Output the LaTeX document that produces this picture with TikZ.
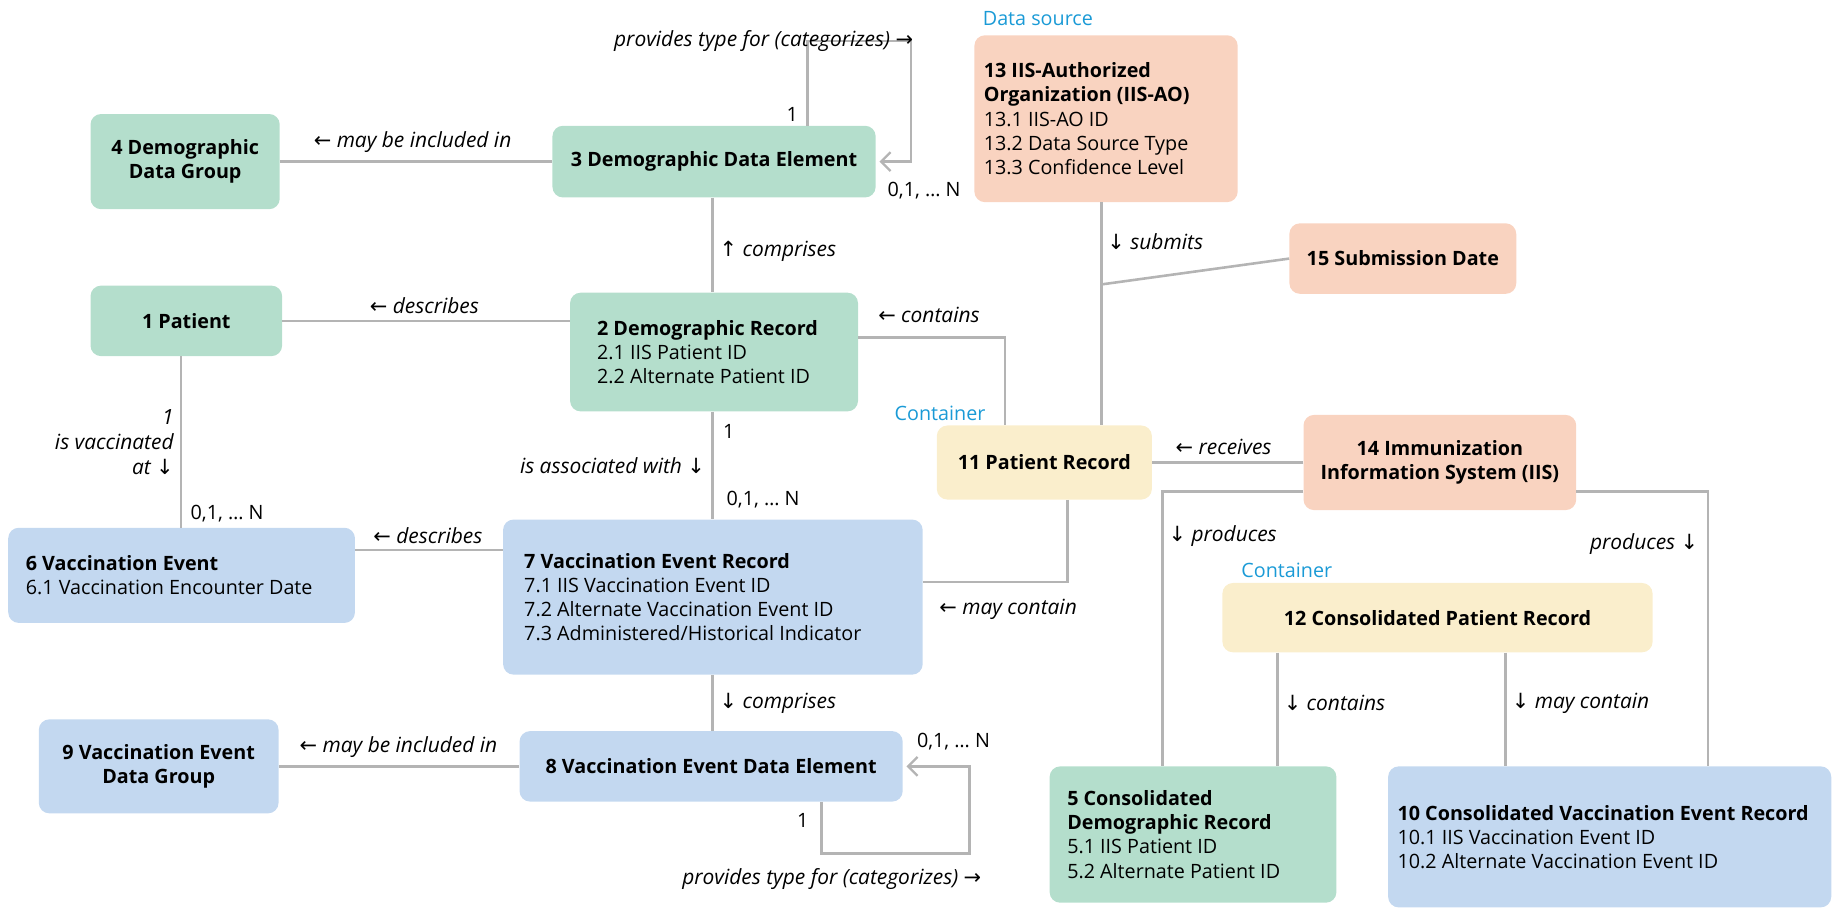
\documentclass[tikz,border=0pt]{standalone}
\usepackage{fontspec}
\setmainfont{Open Sans}
\newfontfamily\symfont{DejaVu Sans}
\usetikzlibrary{arrows.meta}
\definecolor{cgreen}{HTML}{B4DECC}
\definecolor{cblue}{HTML}{C3D8F0}
\definecolor{csalmon}{HTML}{F9D3C0}
\definecolor{cyellow}{HTML}{FAEECC}
\definecolor{cline}{HTML}{B4B4B4}
\definecolor{ctag}{HTML}{1A9AD6}
\newcommand{\arL}{{\symfont\upshape ←}}
\newcommand{\arR}{{\symfont\upshape →}}
\newcommand{\arU}{{\symfont\upshape ↑}}
\newcommand{\arD}{{\symfont\upshape ↓}}
\tikzset{
  txt/.style={font=\fontsize{16.8}{20.5}\selectfont, text=black, inner sep=0pt},
  box/.style={txt, rounded corners=9pt, font=\fontsize{16.8}{20.5}\selectfont\bfseries, align=center},
  gbox/.style={box, fill=cgreen},
  bbox/.style={box, fill=cblue},
  sbox/.style={box, fill=csalmon},
  ybox/.style={box, fill=cyellow},
  inbox/.style={txt, anchor=west, align=left},
  lab/.style={txt, font=\fontsize{17.8}{21}\selectfont\itshape},
  card/.style={txt},
  tag/.style={txt, text=ctag, anchor=west},
  conn/.style={draw=cline, line width=2.2pt},
  loopconn/.style={conn, -{Straight Barb[length=8pt,width=16pt,line width=2pt]}, shorten >=3pt},
}
\begin{document}
\begin{tikzpicture}[x=1pt, y=-1pt]
\useasboundingbox (0,0) rectangle (1568,773);

% ---------- boxes ----------
\node[gbox, minimum width=161pt, minimum height=81pt] (n4) at (157.5,137.5) {4 Demographic\\Data Group};
\node[gbox, minimum width=275pt, minimum height=61pt] (n3) at (607.5,137.5) {3 Demographic Data Element};
\node[gbox, minimum width=163pt, minimum height=60pt] (n1) at (158.5,273) {1 Patient};
\node[gbox, minimum width=245pt, minimum height=101pt] (n2) at (607.5,299.5) {};
\node[inbox] at ([xshift=23pt]n2.west) {\textbf{2 Demographic Record}\\2.1 IIS Patient ID\\2.2 Alternate Patient ID};
\node[ybox, minimum width=183pt, minimum height=63pt] (n11) at (888.5,393.5) {11 Patient Record};
\node[bbox, minimum width=295pt, minimum height=81pt] (n6) at (154.5,489.5) {};
\node[inbox] at ([xshift=15pt]n6.west) {\textbf{6 Vaccination Event}\\6.1 Vaccination Encounter Date};
\node[bbox, minimum width=357pt, minimum height=132pt] (n7) at (606.5,508) {};
\node[inbox] at ([xshift=18pt]n7.west) {\textbf{7 Vaccination Event Record}\\7.1 IIS Vaccination Event ID\\7.2 Alternate Vaccination Event ID\\7.3 Administered/Historical Indicator};
\node[sbox, minimum width=224pt, minimum height=142pt] (n13) at (941,101) {};
\node[inbox] at ([xshift=8pt]n13.west) {\textbf{13 IIS-Authorized}\\\textbf{Organization (IIS-AO)}\\13.1 IIS-AO ID\\13.2 Data Source Type\\13.3 Confidence Level};
\node[sbox, minimum width=193pt, minimum height=60pt] (n15) at (1193.5,220) {15 Submission Date};
\node[sbox, minimum width=232pt, minimum height=81pt] (n14) at (1225,393.5) {14 Immunization\\Information System (IIS)};
\node[ybox, minimum width=366pt, minimum height=59pt] (n12) at (1223,525.5) {12 Consolidated Patient Record};
\node[gbox, minimum width=244pt, minimum height=116pt] (n5) at (1015,710) {};
\node[inbox] at ([xshift=15pt]n5.west) {\textbf{5 Consolidated}\\\textbf{Demographic Record}\\5.1 IIS Patient ID\\5.2 Alternate Patient ID};
\node[bbox, minimum width=377pt, minimum height=120pt] (n10) at (1369.5,712) {};
\node[inbox] at ([xshift=8pt]n10.west) {\textbf{10 Consolidated Vaccination Event Record}\\10.1 IIS Vaccination Event ID\\10.2 Alternate Vaccination Event ID};
\node[bbox, minimum width=326pt, minimum height=60pt] (n8) at (605,652) {8 Vaccination Event Data Element};
\node[bbox, minimum width=204pt, minimum height=80pt] (n9) at (135,652) {9 Vaccination Event\\Data Group};

% ---------- helper coordinates for routing ----------
\coordinate (xA) at (606,0);
\coordinate (xP) at (154,0);
\coordinate (x11in) at (855,0);
\coordinate (x13) at (937,0);
\coordinate (x11out) at (908,0);
\coordinate (xProdL) at (989,0);
\coordinate (xProdR) at (1453,0);
\coordinate (x12L) at (1087,0);
\coordinate (x12R) at (1281,0);
\coordinate (x3loop) at (687,0);
\coordinate (x8loop) at (699,0);
\coordinate (yContains) at (0,287);
\coordinate (yDescr) at (0,468);
\coordinate (yMay) at (0,495);
\coordinate (yProd) at (0,418);
\coordinate (jSub) at (937,242);
\coordinate (c3loop) at (775,35);
\coordinate (c8loop) at (825,726);

% ---------- connectors ----------
\draw[conn] (n4.east) -- (n3.west);
\draw[conn] (n1.east) -- (n1.east -| n2.west);
\draw[conn] (xA |- n3.south) -- (xA |- n2.north);
\draw[conn] (xA |- n2.south) -- (xA |- n7.north);
\draw[conn] (xA |- n7.south) -- (xA |- n8.north);
\draw[conn] (xP |- n1.south) -- (xP |- n6.north);
\draw[conn] (n6.east |- yDescr) -- (n7.west |- yDescr);
\draw[conn] (n9.east) -- (n8.west);
\draw[conn] (n2.east |- yContains) -| (x11in |- n11.north);
\draw[conn] (x13 |- n13.south) -- (x13 |- n11.north);
\draw[conn] (jSub) -- (n15.west);
\draw[conn] (x11out |- n11.south) |- (n7.east |- yMay);
\draw[conn] (n14.west) -- (n11.east);
\draw[conn] (n14.west |- yProd) -| (xProdL |- n5.north);
\draw[conn] (n14.east |- yProd) -| (xProdR |- n10.north);
\draw[conn] (x12L |- n12.south) -- (x12L |- n5.north);
\draw[conn] (x12R |- n12.south) -- (x12R |- n10.north);
\draw[loopconn] (x3loop |- n3.north) |- (c3loop) |- (n3.east);
\draw[loopconn] (x8loop |- n8.south) |- (c8loop) |- (n8.east);

% ---------- labels ----------
\node[lab, anchor=east] at (777,35) {provides type for (categorizes) \arR};
\node[card] at (674,97) {1};
\node[card, anchor=west] at (755,162) {0,1, \dots\ N};
\node[lab] at (351,121) {\arL\ may be included in};
\node[lab] at (361,260) {\arL\ describes};
\node[lab, anchor=west] at (612,214) {\arU\ comprises};
\node[lab, anchor=west] at (747,268) {\arL\ contains};
\node[tag] at (836,16) {Data source};
\node[lab, anchor=west] at (942,206) {\arD\ submits};
\node[tag] at (761,352) {Container};
\node[card, anchor=west] at (615,367) {1};
\node[lab, anchor=east] at (600,396) {is associated with \arD};
\node[card, anchor=west] at (618,425) {0,1, \dots\ N};
\node[lab, anchor=east, align=right, font=\fontsize{17.8}{21.5}\selectfont\itshape] at (148,376) {1\\is vaccinated\\at \arD};
\node[card, anchor=west] at (162,437) {0,1, \dots\ N};
\node[lab] at (364,456) {\arL\ describes};
\node[lab, anchor=west] at (799,518) {\arL\ may contain};
\node[lab, anchor=west] at (1000,380) {\arL\ receives};
\node[lab, anchor=west] at (994,456) {\arD\ produces};
\node[lab, anchor=east] at (1445,463) {produces \arD};
\node[tag] at (1056,485) {Container};
\node[lab, anchor=west] at (1092,598) {\arD\ contains};
\node[lab, anchor=west] at (1286,598) {\arD\ may contain};
\node[lab, anchor=west] at (612,598) {\arD\ comprises};
\node[lab] at (339,636) {\arL\ may be included in};
\node[card, anchor=west] at (780,631) {0,1, \dots\ N};
\node[card] at (683,698) {1};
\node[lab, anchor=east] at (835,748) {provides type for (categorizes) \arR};
\end{tikzpicture}
\end{document}
